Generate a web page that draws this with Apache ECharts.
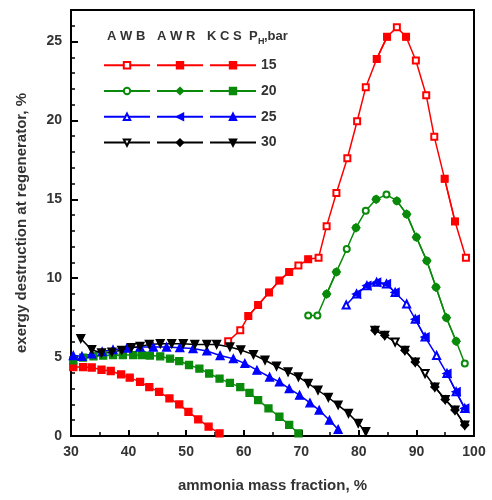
<!DOCTYPE html>
<html>
<head>
<meta charset="utf-8">
<script src="https://cdn.jsdelivr.net/npm/echarts@6/dist/echarts.min.js"></script>
<style>html,body{margin:0;padding:0;background:#fff}#c{width:492px;height:500px}</style>
</head>
<body>
<div id="c"></div>
<script>
// ---- data (x: ammonia mass fraction %, y: exergy destruction %) ----
const pressures = ['15', '20', '25', '30'];
const cycles = ['AWB', 'AWR', 'KCS'];
const xTicks = [30, 40, 50, 60, 70, 80, 90, 100];
const yTicks = [0, 5, 10, 15, 20, 25];

// P_H = 15 bar
const awb15 = [[57.3,6.0],[59.4,6.7],[60.8,7.6],[62.5,8.3],[64.4,9.1],[66.2,9.85],[67.9,10.4],[69.5,10.8],[71.2,11.2],[73.0,11.3],[74.4,13.3],[76.1,15.4],[78.0,17.6],[79.7,19.95],[81.2,22.1],[83.1,23.9],[84.9,25.3],[86.6,25.9],[88.2,25.3],[89.9,23.8],[91.7,21.6],[93.1,18.96],[94.9,16.3],[96.7,13.6],[98.6,11.3]];
const awr15 = [[60.8,7.6],[62.5,8.3],[64.4,9.1],[66.2,9.85],[67.9,10.4],'-',[71.2,11.2],'-',[83.1,23.9],[84.9,25.3],'-',[88.2,25.3],'-',[94.9,16.3],[96.7,13.6]];
const kcs15 = [[30.4,4.37],[32.1,4.37],[33.6,4.34],[35.3,4.2],[36.9,4.12],[38.7,3.9],[40.2,3.7],[42.0,3.43],[43.6,3.1],[45.3,2.8],[47.1,2.38],[48.8,2.0],[50.4,1.53],[52.1,1.05],[53.9,0.59],[55.8,0.17]];

// P_H = 20 bar
const awb20 = [[71.2,7.64],[72.8,7.64],[74.4,9.0],[76.1,10.4],[77.9,11.85],[79.5,13.2],[81.2,14.27],[83.0,15.0],[84.8,15.3],[86.6,14.9],[88.3,14.06],[90.0,12.6],[91.8,11.1],[93.4,9.43],[95.2,7.5],[96.9,6.0],[98.4,4.6]];
const awr20 = [[74.4,9.0],[76.1,10.4],'-',[79.5,13.2],'-',[83.0,15.0],'-',[86.6,14.9],[88.3,14.06],[90.0,12.6],[91.8,11.1],[93.4,9.43],[95.2,7.5],[96.9,6.0]];
const kcs20 = [[30.4,4.8],[32.1,4.97],[33.9,5.05],[35.6,5.1],[37.3,5.12],[39.0,5.13],[40.8,5.13],[42.3,5.12],[43.7,5.1],[45.5,5.05],[47.2,4.9],[48.8,4.75],[50.5,4.5],[52.3,4.27],[54.0,3.96],[55.8,3.64],[57.6,3.37],[59.4,3.1],[61.0,2.73],[62.5,2.27],[64.3,1.75],[66.2,1.22],[67.9,0.7],[69.5,0.17]];

// P_H = 25 bar
const awb25 = [[77.8,8.3],[79.6,9.0],[81.4,9.53],[83.1,9.74],[84.8,9.64],[86.3,9.1],[88.3,8.37],[89.8,7.4],[91.5,6.27],[93.5,5.1],[95.3,3.96],[96.9,2.8],[98.4,1.75]];
const awr25 = [[79.6,9.0],[81.4,9.53],[83.1,9.74],[84.8,9.64],[86.3,9.1],'-',[89.8,7.4],[91.5,6.27],'-',[95.3,3.96],[96.9,2.8],[98.4,1.75]];
const kcs25 = [[30.4,5.1],[31.9,5.05],[33.6,5.2],[35.4,5.35],[37.3,5.47],[39.7,5.57],[42.0,5.64],[44.3,5.64],[46.6,5.64],[48.9,5.6],[51.2,5.54],[53.6,5.39],[55.9,5.1],[58.2,4.9],[60.2,4.6],[62.3,4.17],[64.5,3.74],[66.2,3.43],[67.9,3.0],[69.7,2.59],[71.5,2.1],[73.1,1.64],[74.9,1.0],[76.4,0.42]];

// P_H = 30 bar
const awb30 = [[82.8,6.7],[84.5,6.38],[86.3,5.95],[88.0,5.43],[89.8,4.69],[91.5,3.96],[93.2,3.11],[95.0,2.32],[96.7,1.64],[98.4,0.69]];
const awr30 = [[82.8,6.7],[84.5,6.38],'-',[88.0,5.43],[89.8,4.69],'-',[93.2,3.11],[95.0,2.32],[96.7,1.64],[98.4,0.69]];
const kcs30 = [[31.7,6.17],[33.6,5.47],[35.3,5.26],[37.1,5.32],[38.8,5.43],[40.5,5.6],[42.0,5.68],[43.6,5.8],[45.5,5.85],[47.5,5.85],[49.5,5.85],[51.5,5.8],[53.6,5.8],[55.3,5.8],[57.6,5.64],[59.5,5.45],[61.7,5.16],[63.7,4.8],[65.7,4.42],[67.7,4.06],[69.5,3.74],[71.2,3.33],[72.9,2.9],[74.7,2.44],[76.4,1.96],[78.2,1.43],[79.9,0.8],[81.2,0.27]];

// ---- styling ----
const colors = {'15':'#ff0000','20':'#0a8a0a','25':'#0000ff','30':'#000000'};
const dataMap = {
  '15': {AWB: awb15, AWR: awr15, KCS: kcs15},
  '20': {AWB: awb20, AWR: awr20, KCS: kcs20},
  '25': {AWB: awb25, AWR: awr25, KCS: kcs25},
  '30': {AWB: awb30, AWR: awr30, KCS: kcs30}
};
const symbols = {
  '15': {AWB:['emptyRect',0,6], AWR:['rect',0,6], KCS:['rect',0,7]},
  '20': {AWB:['emptyCircle',0,6], AWR:['diamond',0,8], KCS:['rect',0,7]},
  '25': {AWB:['emptyTriangle',0,7], AWR:['triangle',90,8], KCS:['triangle',0,8]},
  '30': {AWB:['emptyTriangle',180,7], AWR:['diamond',0,8], KCS:['triangle',180,8]}
};

const series = [];
pressures.forEach(p => {
  cycles.forEach(c => {
    const s = symbols[p][c];
    series.push({
      name: c + ' ' + p,
      type: 'line',
      data: dataMap[p][c],
      symbol: s[0],
      symbolRotate: s[1],
      symbolSize: s[2],
      showAllSymbol: true,
      connectNulls: false,
      color: colors[p],
      lineStyle: {color: colors[p], width: 1.5},
      itemStyle: {color: colors[p], borderColor: colors[p], borderWidth: 1.3},
      z: c === 'AWB' ? 2 : 3,
      animation: false
    });
  });
});

const legendBase = {
  orient: 'vertical', top: 56, itemWidth: 46, itemHeight: 8, itemGap: 17.4,
  textStyle: {fontFamily: 'Liberation Sans, Arial', fontSize: 14, fontWeight: 'bold', color: '#333', lineHeight: 8},
  selectedMode: false
};
const legends = cycles.map((c, i) => Object.assign({}, legendBase, {
  left: [98, 151, 204][i],
  top: c === 'KCS' ? 53.2 : 56,
  itemGap: c === 'KCS' ? 11.8 : 17.4,
  data: pressures.map(p => c + ' ' + p),
  formatter: c === 'KCS' ? (n => n.split(' ')[1]) : (() => '')
}));

const hdr = {fontFamily: 'Liberation Sans, Arial', fontSize: 13, fontWeight: 'bold', fill: '#333'};
const chart = echarts.init(document.getElementById('c'), null, {renderer: 'canvas'});
chart.setOption({
  backgroundColor: '#fff',
  animation: false,
  grid: {left: 71, right: 18, top: 10, bottom: 64, show: true, borderColor: '#000', borderWidth: 2, backgroundColor: 'transparent'},
  legend: legends,
  graphic: [
    {type: 'text', left: 107, top: 30, style: Object.assign({text: 'A W B'}, hdr)},
    {type: 'text', left: 157, top: 30, style: Object.assign({text: 'A W R'}, hdr)},
    {type: 'text', left: 207, top: 30, style: Object.assign({text: 'K C S'}, hdr)},
    {type: 'text', left: 249, top: 30, style: Object.assign({text: 'P'}, hdr)},
    {type: 'text', left: 258, top: 37, style: Object.assign({}, hdr, {text: 'H', fontSize: 9})},
    {type: 'text', left: 264, top: 30, style: Object.assign({text: ',bar'}, hdr)}
  ],
  xAxis: {
    type: 'value', min: 30, max: 100, interval: 10,
    name: 'ammonia mass fraction, %', nameLocation: 'middle', nameGap: 42,
    nameTextStyle: {fontFamily: 'Liberation Sans, Arial', fontSize: 15, fontWeight: 'bold', color: '#333'},
    axisLine: {show: true, lineStyle: {color: '#000', width: 2}},
    axisTick: {show: true, inside: true, length: 6, lineStyle: {color: '#000', width: 2}},
    minorTick: {show: true, splitNumber: 2, length: 4, lineStyle: {color: '#000', width: 1.5}},
    axisLabel: {fontFamily: 'Liberation Sans, Arial', fontSize: 14, fontWeight: 'bold', color: '#333', margin: 9,
      formatter: v => xTicks.includes(v) ? String(v) : ''},
    splitLine: {show: false}
  },
  yAxis: {
    type: 'value', min: 0, max: 27, interval: 5,
    name: 'exergy destruction at regenerator, %', nameLocation: 'middle', nameGap: 42,
    nameTextStyle: {fontFamily: 'Liberation Sans, Arial', fontSize: 15, fontWeight: 'bold', color: '#333'},
    axisLine: {show: true, lineStyle: {color: '#000', width: 2}},
    axisTick: {show: true, inside: true, length: 7, lineStyle: {color: '#000', width: 2}},
    minorTick: {show: true, splitNumber: 5, length: 4, lineStyle: {color: '#000', width: 1.5}},
    axisLabel: {fontFamily: 'Liberation Sans, Arial', fontSize: 14, fontWeight: 'bold', color: '#333', margin: 9,
      showMaxLabel: false, formatter: v => yTicks.includes(v) ? String(v) : ''},
    splitLine: {show: false}
  },
  series: series
});
</script>
</body>
</html>
